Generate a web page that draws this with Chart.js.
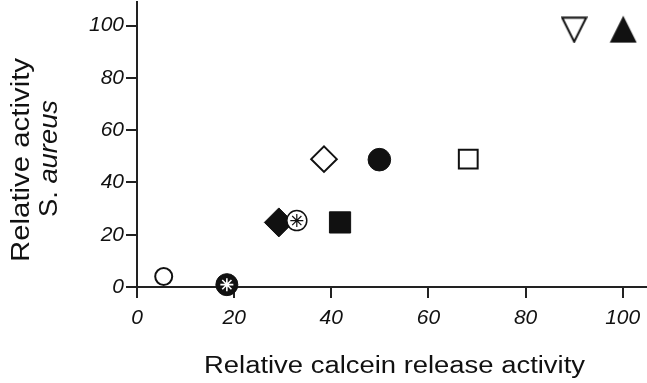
<!DOCTYPE html>
<html>
<head>
<meta charset="utf-8">
<script src="https://cdn.jsdelivr.net/npm/chart.js@4.4.0/dist/chart.umd.min.js"></script>
<style>
html, body { margin: 0; padding: 0; background: #fff; }
#wrap { width: 647px; height: 383px; }
</style>
</head>
<body>
<div id="wrap"><canvas id="myChart"></canvas></div>
<script>
const ctx = document.getElementById('myChart');

// axis ticks
const xTicks = [0, 20, 40, 60, 80, 100];
const yTicks = [0, 20, 40, 60, 80, 100];

// [calcein release, S. aureus activity] for each marker
const openCircle = [[5.5, 4]];
const starBlack = [[18.5, 0.9]];
const blackDiamond = [[29.2, 24.7]];
const starOpen = [[32.9, 25.4]];
const blackSquare = [[41.8, 24.7]];
const openDiamond = [[38.5, 48.9]];
const blackCircle = [[49.9, 48.7]];
const openSquare = [[68.2, 48.9]];
const openTriDown = [[90, 98.4]];
const blackTri = [[100.1, 98.6]];

const ink = '#111';
const font = '"Liberation Sans", Arial, Helvetica, sans-serif';

function pts(arr) {
    return arr.map(p => ({ x: p[0], y: p[1] }));
}

function ds(arr, style, r, fill, border, bw, order) {
    return {
        data: pts(arr),
        pointStyle: style,
        pointRadius: r,
        pointHoverRadius: r,
        backgroundColor: fill,
        borderColor: border,
        pointBorderWidth: bw,
        showLine: false,
        clip: false,
        order: order
    };
}

// triangles are a bit taller than equilateral, so make them as small canvases
function triangle(w, h, fill, lw, down) {
    const c = document.createElement('canvas');
    c.width = w;
    c.height = h;
    const g = c.getContext('2d');
    const m = lw / 2 + 0.5;
    g.beginPath();
    if (down) {
        g.moveTo(m, m);
        g.lineTo(w - m, m);
        g.lineTo(w / 2, h - m);
    } else {
        g.moveTo(w / 2, m);
        g.lineTo(w - m, h - m);
        g.lineTo(m, h - m);
    }
    g.closePath();
    g.fillStyle = fill;
    g.fill();
    if (lw) {
        g.lineWidth = lw;
        g.strokeStyle = ink;
        g.stroke();
    }
    return c;
}

// text in the picture is a little wider than Arial, so titles are drawn stretched
function stretched(c, parts, x, y, size, len, rotate) {
    c.save();
    c.fillStyle = ink;
    c.textBaseline = 'alphabetic';
    c.textAlign = 'left';
    let total = 0;
    parts.forEach(p => {
        c.font = (p[1] ? 'italic ' : '') + size + 'px ' + font;
        p.w = c.measureText(p[0]).width;
        total += p.w;
    });
    c.translate(x, y);
    if (rotate) c.rotate(-Math.PI / 2);
    c.scale(len / total, 1);
    let pos = -total / 2;
    parts.forEach(p => {
        c.font = (p[1] ? 'italic ' : '') + size + 'px ' + font;
        c.fillText(p[0], pos, 0);
        pos += p.w;
    });
    c.restore();
}

const titles = {
    id: 'titles',
    afterDraw(chart) {
        const c = chart.ctx;
        stretched(c, [['Relative calcein release activity', false]], 394.5, 373.3, 23.5, 381, false);
        stretched(c, [['Relative activity', false]], 28.5, 160, 26.5, 204, true);
        stretched(c, [['S. ', false], ['aureus', true]], 56.7, 158.5, 26, 117, true);
    }
};

const myChart = new Chart(ctx, {
    type: 'scatter',
    data: {
        datasets: [
            ds(starBlack, 'star', 6.5, 'rgba(0,0,0,0)', '#fff', 1.6, 0),
            ds(starOpen, 'star', 6.5, 'rgba(0,0,0,0)', ink, 1.2, 0),
            ds(openCircle, 'circle', 8.5, '#fff', ink, 2, 1),
            ds(starBlack, 'circle', 11, ink, ink, 1, 1),
            ds(starOpen, 'circle', 10, '#fff', ink, 1.5, 1),
            ds(blackDiamond, 'rectRot', 14.5, ink, ink, 1, 2),
            ds(blackSquare, 'rect', 15, ink, ink, 1, 1),
            ds(openDiamond, 'rectRot', 12.8, '#fff', ink, 2, 1),
            ds(blackCircle, 'circle', 11.3, ink, ink, 1, 1),
            ds(openSquare, 'rect', 13.3, '#fff', ink, 2, 1),
            ds(openTriDown, triangle(27, 27, '#fff', 2, true), 14, '#fff', ink, 0, 1),
            ds(blackTri, triangle(28, 28, ink, 0, false), 14, ink, ink, 0, 1)
        ]
    },
    options: {
        responsive: true,
        maintainAspectRatio: false,
        animation: false,
        layout: { padding: { top: 2, left: 0, right: 0, bottom: 0 }, autoPadding: false },
        plugins: {
            legend: { display: false },
            tooltip: { enabled: false }
        },
        scales: {
            x: {
                type: 'linear',
                min: 0,
                max: 105,
                afterBuildTicks: s => { s.ticks = xTicks.map(v => ({ value: v })); },
                afterFit: s => { s.height = 96; s.paddingLeft = 0; s.paddingRight = 0; s.paddingTop = 0; s.paddingBottom = 0; },
                grid: { drawOnChartArea: false, tickLength: 11, color: '#222', lineWidth: 2 },
                border: { color: '#222', width: 2 },
                ticks: {
                    color: ink,
                    padding: 8,
                    maxRotation: 0,
                    font: { family: font, size: 21, style: 'italic' }
                }
            },
            y: {
                type: 'linear',
                min: 0,
                max: 109,
                afterBuildTicks: s => { s.ticks = yTicks.map(v => ({ value: v })); },
                afterFit: s => { s.width = 137; s.paddingTop = 0; s.paddingBottom = 0; s.paddingLeft = 0; s.paddingRight = 0; },
                grid: { drawOnChartArea: false, tickLength: 11, color: '#222', lineWidth: 2 },
                border: { color: '#222', width: 2 },
                ticks: {
                    color: ink,
                    padding: 2,
                    font: { family: font, size: 21, style: 'italic' }
                }
            }
        }
    },
    plugins: [titles]
});
</script>
</body>
</html>
